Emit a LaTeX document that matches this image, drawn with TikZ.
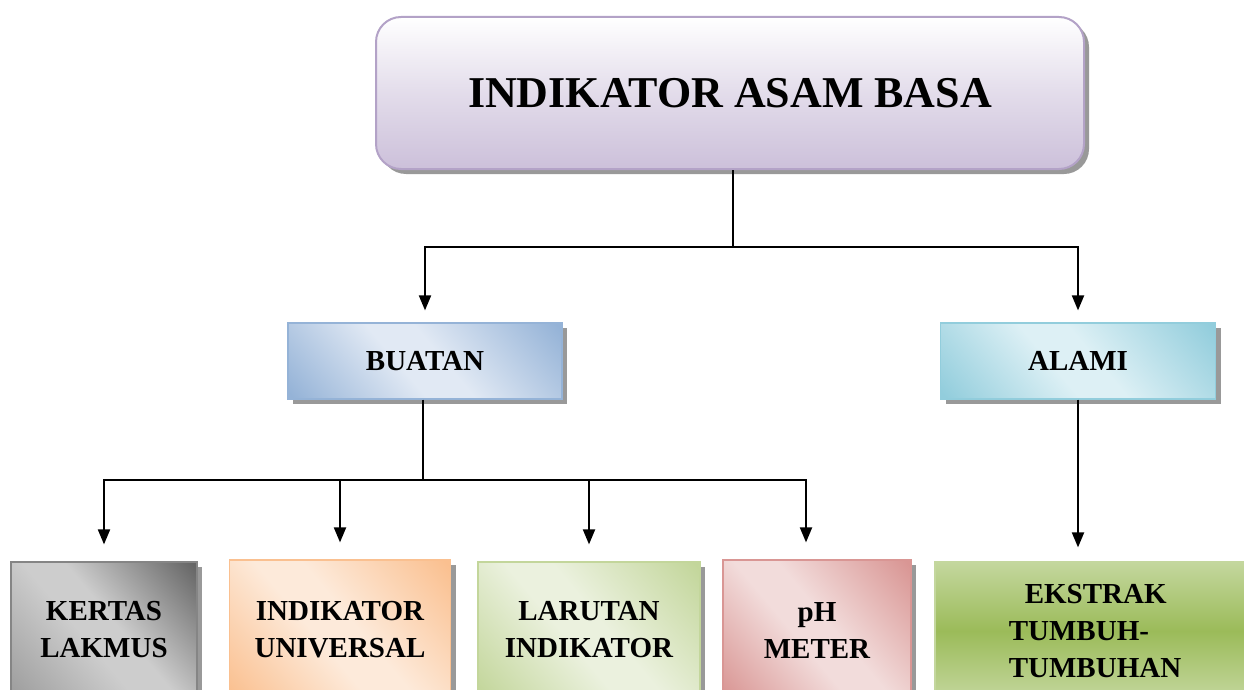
\documentclass[tikz,border=0pt]{standalone}
\usepackage{fontspec}
\setmainfont{Liberation Serif}
\usetikzlibrary{arrows.meta, shadows}

\definecolor{lavline}{HTML}{B3A2C7}
\definecolor{lavfill}{HTML}{CCC0DA}
\definecolor{blueedge}{HTML}{95B3D7}
\definecolor{bluemid}{HTML}{E1E9F4}
\definecolor{aquaedge}{HTML}{92CDDC}
\definecolor{aquamid}{HTML}{DDF0F5}
\definecolor{grayedge}{HTML}{666666}
\definecolor{graymid}{HTML}{CDCDCD}
\definecolor{graylow}{HTML}{9E9E9E}
\definecolor{peachedge}{HTML}{FAC090}
\definecolor{peachmid}{HTML}{FDEADA}
\definecolor{limeedge}{HTML}{C3D69B}
\definecolor{limemid}{HTML}{EBF1DE}
\definecolor{roseedge}{HTML}{D99694}
\definecolor{rosemid}{HTML}{F2DCDB}
\definecolor{leafdark}{HTML}{9BBB59}
\definecolor{leaflight}{HTML}{C4D79E}

% soft diagonal band shading
\colorlet{shA}{white}\colorlet{shB}{white}\colorlet{shC}{white}
\pgfdeclareverticalshading[shA,shB,shC]{softband}{100bp}{color(0bp)=(shC); color(16bp)=(shC); color(44bp)=(shB); color(54bp)=(shB); color(84bp)=(shA); color(100bp)=(shA)}

\tikzset{
  box/.style={draw, line width=1.2pt, align=center, inner sep=2pt,
    font=\bfseries\fontsize{29}{37}\selectfont,
    drop shadow={shadow xshift=5pt, shadow yshift=-5pt, fill=black!40, opacity=1}},
  band/.style n args={3}{/utils/exec={\colorlet{shA}{#1}\colorlet{shB}{#2}\colorlet{shC}{#3}},
    shading=softband, shading angle=-50, draw=#1},
  diag/.style 2 args={band={#1}{#2}{#1}},
  link/.style={line width=2pt},
  arrow/.style={link, -{Triangle[length=15pt,width=12pt]}},
}

\begin{document}
\begin{tikzpicture}[x=1pt,y=-1pt]
\clip (0,0) rectangle (1244,690);
% top
\node[box, rounded corners=25pt, draw=lavline, line width=2pt,
  top color=white, bottom color=lavfill, middle color=lavfill!55,
  minimum width=708pt, minimum height=152pt,
  font=\bfseries\fontsize{44}{50}\selectfont] (top) at (730,93) {INDIKATOR ASAM BASA};
% second level
\node[box, diag={blueedge}{bluemid}, minimum width=274pt, minimum height=76pt] (buatan) at (425,361) {BUATAN};
\node[box, diag={aquaedge}{aquamid}, minimum width=275pt, minimum height=76pt] (alami) at (1078,361) {ALAMI};
% bottom level
\node[box, band={grayedge}{graymid}{graylow}, draw=grayedge!80,
  minimum width=186pt, minimum height=136pt] (kertas) at (104,630) {KERTAS\\LAKMUS};
\node[box, diag={peachedge}{peachmid}, minimum width=221pt, minimum height=140pt] (univ) at (340,630) {INDIKATOR\\UNIVERSAL};
\node[box, diag={limeedge}{limemid}, minimum width=222pt, minimum height=136pt] (larutan) at (589,630) {LARUTAN\\INDIKATOR};
\node[box, diag={roseedge}{rosemid}, minimum width=188pt, minimum height=140pt] (ph) at (817,630) {pH\\METER};
\node[box, top color=leaflight, bottom color=leaflight, middle color=leafdark, draw=leaflight, align=left,
  minimum width=320pt, minimum height=138pt] (ekstrak) at (1095,631) {\hspace{16pt}EKSTRAK\\TUMBUH-\\TUMBUHAN};
% connectors
\coordinate (j1) at (733,247);
\coordinate (j2) at (423,480);
\draw[link] (top.south -| j1) -- (j1);
\draw[arrow, shorten >=12pt] (j1) -| (buatan.north);
\draw[arrow, shorten >=12pt] (j1) -| (alami.north);
\draw[link] (buatan.south -| j2) -- (j2);
\draw[arrow, shorten >=17pt] (j2) -| (kertas.north);
\draw[arrow, shorten >=17pt] (j2) -| (univ.north);
\draw[arrow, shorten >=17pt] (j2) -| (larutan.north);
\draw[arrow, shorten >=17pt] (j2) -| ([xshift=-11pt]ph.north);
\draw[arrow, shorten >=14pt] (alami.south) -- (alami.south |- ekstrak.north);
\end{tikzpicture}
\end{document}
